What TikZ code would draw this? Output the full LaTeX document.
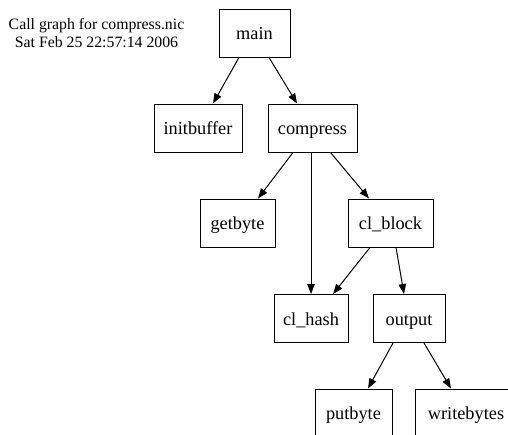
\documentclass[tikz,border=0pt]{standalone}
\usepackage{fontspec}
\setmainfont{Liberation Serif}
\usepackage{tikz}
\usetikzlibrary{arrows.meta}
\usetikzlibrary{positioning}
\tikzstyle{func}=[draw=black, line width=1pt, rectangle, inner sep=0pt,
    minimum height=48pt, text height=13pt, text depth=0pt,
    font=\fontsize{18.3}{22}\selectfont]
\tikzstyle{call}=[line width=1pt, -{Triangle[length=10pt,width=7.5pt]}]

\begin{document}
\begin{tikzpicture}[x=1pt, y=-1pt]
          \useasboundingbox (0,0) rectangle (508,434);
          \node[align=center, font=\fontsize{15.8}{18}\selectfont] (title) at (96.5,33.5)
            {Call graph for compress.nic\\Sat Feb 25 22:57:14 2006};
          \node[func, minimum width=71pt] (main) at (254.5,33){main};
          \node[func, minimum width=88pt] (initbuffer) at (198,128){initbuffer};
          \node[func, minimum width=89pt] (compress) at (312.5,128){compress};
          \node[func, minimum width=75pt] (getbyte) at (237.5,223){getbyte};
          \node[func, minimum width=85pt] (clblock) at (390.5,223){cl\_block};
          \node[func, minimum width=74pt] (clhash) at (311,318.5){cl\_hash};
          \node[func, minimum width=72pt] (output) at (409,318.5){output};
          \node[func, minimum width=77pt] (putbyte) at (353.5,413){putbyte};
          \node[func, minimum width=102pt] (writebytes) at (466,413){writebytes};
          \draw[call]([xshift=-15.5pt]main.south) -- ([xshift=15pt]initbuffer.north);
          \draw[call]([xshift=14.5pt]main.south) -- ([xshift=-15.5pt]compress.north);
          \draw[call]([xshift=-19.5pt]compress.south) -- ([xshift=20.5pt]getbyte.north);
          \draw[call]([xshift=18pt]compress.south) -- ([xshift=-21.5pt]clblock.north);
          \draw[call]([xshift=-1.5pt]compress.south) -- (clhash.north);
          \draw[call]([xshift=-20.5pt]clblock.south) -- ([xshift=22pt]clhash.north);
          \draw[call]([xshift=5.5pt]clblock.south) -- ([xshift=-5pt]output.north);
          \draw[call]([xshift=-16pt]output.south) -- ([xshift=14.5pt]putbyte.north);
          \draw[call]([xshift=15pt]output.south) -- ([xshift=-15pt]writebytes.north);
        \end{tikzpicture}
\end{document}
